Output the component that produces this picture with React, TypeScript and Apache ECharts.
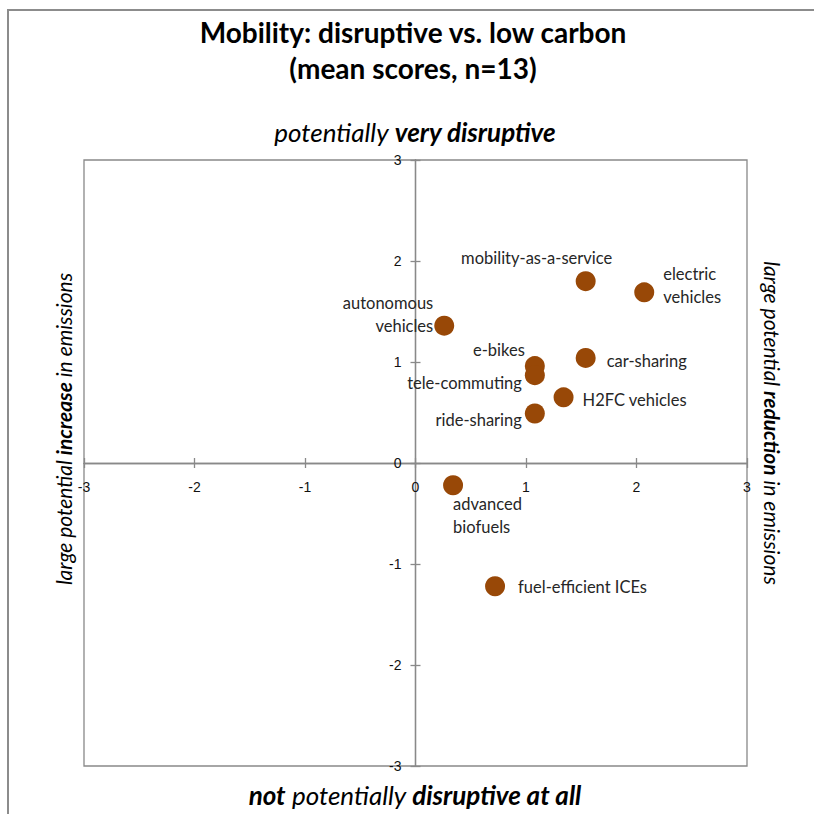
import React, { useEffect, useRef } from "react";
import * as echarts from "echarts";

const names = [
  "mobility-as-a-service",
  "electric\nvehicles",
  "autonomous\nvehicles",
  "e-bikes",
  "tele-commuting",
  "car-sharing",
  "H2FC vehicles",
  "ride-sharing",
  "advanced\nbiofuels",
  "fuel-efficient ICEs",
];
const xValues = [1.54, 2.07, 0.26, 1.08, 1.08, 1.54, 1.34, 1.08, 0.34, 0.72];
const yValues = [1.8, 1.69, 1.36, 0.96, 0.87, 1.04, 0.65, 0.49, -0.22, -1.22];
const tickValues = [-3, -2, -1, 0, 1, 2, 3];

// label placement (pixel offsets from point centre) — styling only
const labelPlacement: Record<string, [number, number, string]> = {
  "mobility-as-a-service": [-49, -23, "center"],
  "electric\nvehicles": [19, -7, "left"],
  "autonomous\nvehicles": [-11, -11, "right"],
  "e-bikes": [-10, -16, "right"],
  "tele-commuting": [-13, 8, "right"],
  "car-sharing": [21, 3, "left"],
  "H2FC vehicles": [19, 3, "left"],
  "ride-sharing": [-13, 6, "right"],
  "advanced\nbiofuels": [0, 30, "left"],
  "fuel-efficient ICEs": [23, 1, "left"],
};

const SYM = 20;
const AXIS_COLOR = "#898989";
const LABEL_FONT = "Lato";
const GRID = { left: 84, right: 67, top: 160, bottom: 48 };
const PLOT_W = 814 - GRID.left - GRID.right;
const PLOT_H = 814 - GRID.top - GRID.bottom;

export default function App() {
  const ref = useRef<HTMLDivElement>(null);
  useEffect(() => {
    document.body.style.margin = "0";
    if (!ref.current) return;
    const chart = echarts.init(ref.current, undefined, { renderer: "svg" });
    const data = names.map((n, i) => {
      const [dx, dy, align] = labelPlacement[n];
      return {
        name: n,
        value: [xValues[i], yValues[i]],
        label: {
          show: true,
          formatter: n,
          position: [SYM / 2 + dx, SYM / 2 + dy],
          align,
          verticalAlign: "middle",
          fontFamily: LABEL_FONT,
          fontSize: 16.5,
          lineHeight: 23,
          color: "#262626",
        },
      };
    });
    const axisCommon = {
      type: "value",
      min: -3,
      max: 3,
      interval: 1,
      splitLine: { show: false },
      axisLine: { show: true, onZero: false, lineStyle: { color: AXIS_COLOR, width: 1.3 } },
      axisTick: { show: true, length: 5, lineStyle: { color: AXIS_COLOR, width: 1.3 } },
    };
    const tickLabel = {
      fontFamily: "Liberation Sans",
      fontSize: 14,
      color: "#111",
      formatter: (v: number) => (tickValues.includes(v) ? String(v) : ""),
    };
    const italic = { fontFamily: "Lato", fontStyle: "italic", fontSize: 26, color: "#000" };
    const boldItalic = { ...italic, fontWeight: "bold" };
    const sItalic = { ...italic, fontSize: 21 };
    const sBoldItalic = { ...boldItalic, fontSize: 21 };
    chart.setOption({
      animation: false,
      backgroundColor: "#fff",
      grid: {
        ...GRID,
        show: true,
        borderColor: AXIS_COLOR,
        borderWidth: 1.3,
        containLabel: false,
      },
      xAxis: [
        { ...axisCommon, position: "bottom", offset: -PLOT_H / 2, axisLabel: { ...tickLabel, margin: 17 } },
        { ...axisCommon, position: "top", offset: -PLOT_H / 2, axisLabel: { show: false } },
      ],
      yAxis: [
        { ...axisCommon, position: "left", offset: -PLOT_W / 2, axisLabel: { ...tickLabel, margin: 14 } },
        { ...axisCommon, position: "right", offset: -PLOT_W / 2, axisLabel: { show: false } },
      ],
      series: [
        {
          type: "scatter",
          xAxisIndex: 0,
          yAxisIndex: 0,
          symbol: "circle",
          symbolSize: SYM,
          itemStyle: { color: "#984807", opacity: 1 },
          data,
          z: 10,
        },
      ],
      graphic: [
        {
          type: "rect",
          shape: { x: 8, y: 10, width: 900, height: 900 },
          style: { fill: "none", stroke: "#8c8c8c", lineWidth: 2 },
          silent: true,
        },
        {
          type: "text",
          x: 413,
          y: 32,
          style: {
            text: "Mobility: disruptive vs. low carbon",
            font: "bold 28px Lato",
            fill: "#000",
            align: "center",
            verticalAlign: "middle",
          },
        },
        {
          type: "text",
          x: 413,
          y: 68,
          style: {
            text: "(mean scores, n=13)",
            font: "bold 28px Lato",
            fill: "#000",
            align: "center",
            verticalAlign: "middle",
          },
        },
        {
          type: "text",
          x: 415,
          y: 132,
          style: {
            text: "{i|potentially }{b|very disruptive}",
            rich: { i: italic, b: boldItalic },
            align: "center",
            verticalAlign: "middle",
          },
        },
        {
          type: "text",
          x: 415,
          y: 795,
          style: {
            text: "{b|not}{i| potentially }{b|disruptive at all}",
            rich: { i: italic, b: boldItalic },
            align: "center",
            verticalAlign: "middle",
          },
        },
        {
          type: "text",
          x: 63,
          y: 429,
          rotation: Math.PI / 2,
          style: {
            text: "{i|large potential }{b|increase}{i| in emissions}",
            rich: { i: sItalic, b: sBoldItalic },
            align: "center",
            verticalAlign: "middle",
          },
        },
        {
          type: "text",
          x: 772,
          y: 423,
          rotation: -Math.PI / 2,
          style: {
            text: "{i|large potential }{b|reduction}{i| in emissions}",
            rich: { i: sItalic, b: sBoldItalic },
            align: "center",
            verticalAlign: "middle",
          },
        },
      ],
    });
    return () => chart.dispose();
  }, []);
  return <div ref={ref} style={{ width: 814, height: 814 }} />;
}
